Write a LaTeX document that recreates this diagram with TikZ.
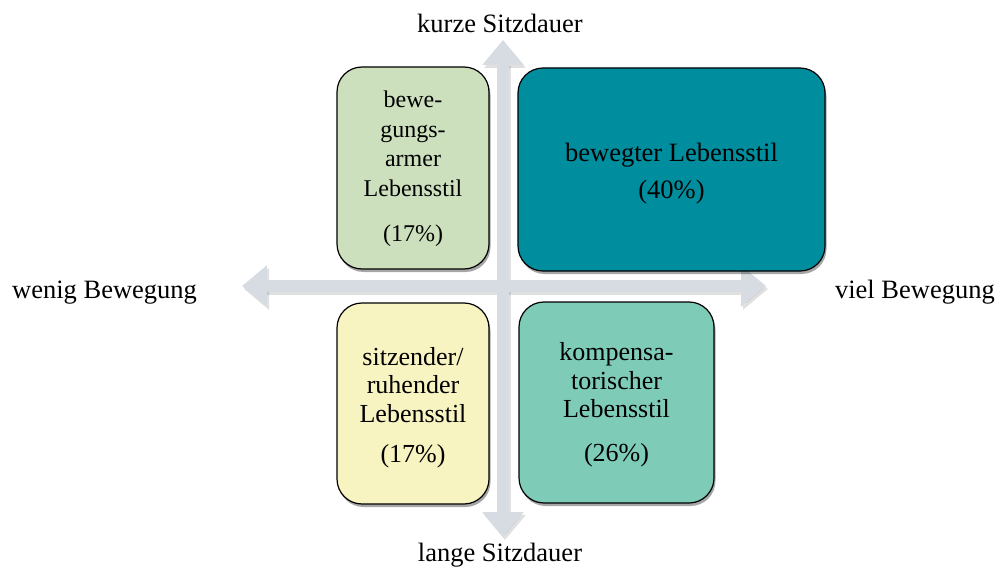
\documentclass[tikz,border=0pt]{standalone}
\usepackage{fontspec}
\setmainfont{Liberation Serif}
\usetikzlibrary{arrows.meta,shadows}
\definecolor{axisgray}{RGB}{214,220,225}
\definecolor{boxgreen}{RGB}{205,224,190}
\definecolor{boxteal}{RGB}{0,142,158}
\definecolor{boxyellow}{RGB}{248,244,194}
\definecolor{boxmint}{RGB}{126,203,184}
\tikzset{
  axisarrow/.style={line width=12pt, draw=axisgray,
    {Triangle[width=40pt,length=25pt]}-{Triangle[width=40pt,length=25pt]}},
  axisshadow/.style={line width=12pt, draw=black, opacity=0.12,
    {Triangle[width=40pt,length=25pt]}-{Triangle[width=40pt,length=25pt]}},
  quadbox/.style={draw=black, line width=1.2pt, rounded corners=25pt,
    inner sep=0pt,
    drop shadow={shadow xshift=1.5pt, shadow yshift=-3pt, opacity=0.35, fill=black}},
  quadtext/.style={align=center, inner sep=0pt},
  axislabel/.style={font=\fontsize{26.5}{28}\selectfont, inner sep=0pt}
}
\begin{document}
\begin{tikzpicture}[x=1pt,y=-1pt]
\useasboundingbox (0,0) rectangle (1000,569);
% axis end points
\coordinate (L) at (242,286);
\coordinate (R) at (766,286);
\coordinate (T) at (503,40);
\coordinate (B) at (503,537);
\coordinate (Ls) at (244,289);
\coordinate (Rs) at (768,289);
\coordinate (Ts) at (505,43);
\coordinate (Bs) at (505,540);
% shadows of the axes
\draw[axisshadow] (Ls) -- (Rs);
\draw[axisshadow] (Ts) -- (Bs);
% axes
\draw[axisarrow] (L) -- (R);
\draw[axisarrow] (T) -- (B);
% boxes
\node[quadbox, fill=boxgreen, minimum width=152pt, minimum height=202pt] (q1) at (413,168) {};
\node[quadbox, fill=boxteal, minimum width=307pt, minimum height=203pt] (q2) at (671.5,169.5) {};
\node[quadbox, fill=boxyellow, minimum width=152pt, minimum height=201pt] (q3) at (413,403.5) {};
\node[quadbox, fill=boxmint, minimum width=195pt, minimum height=201pt] (q4) at (616.5,402.5) {};
% box texts
\node[quadtext, font=\fontsize{24}{29.5}\selectfont] (t1) at ([yshift=-1pt]q1.center)
  {bewe-\\gungs-\\armer\\Lebensstil\\[16pt](17\%)};
\node[quadtext, font=\fontsize{26.5}{28.5}\selectfont] (t2) at ([yshift=-4.5pt]q2.center)
  {bewegter Lebensstil\\[8.5pt](40\%)};
\node[quadtext, font=\fontsize{26}{28.5}\selectfont] (t3) at ([yshift=-4pt]q3.center)
  {sitzender/\\ruhender\\Lebensstil\\[12pt](17\%)};
\node[quadtext, font=\fontsize{26}{28.5}\selectfont] (t4) at ([yshift=-2pt]q4.center)
  {kompensa-\\torischer\\Lebensstil\\[15pt](26\%)};
% axis labels
\node[axislabel, anchor=base] (top) at (500,33) {kurze Sitzdauer};
\node[axislabel, anchor=base] (bottom) at (500,561) {lange Sitzdauer};
\node[axislabel, anchor=base west] (left) at (12,298) {wenig Bewegung};
\node[axislabel, anchor=base east] (right) at (995,298) {viel Bewegung};
\end{tikzpicture}
\end{document}
